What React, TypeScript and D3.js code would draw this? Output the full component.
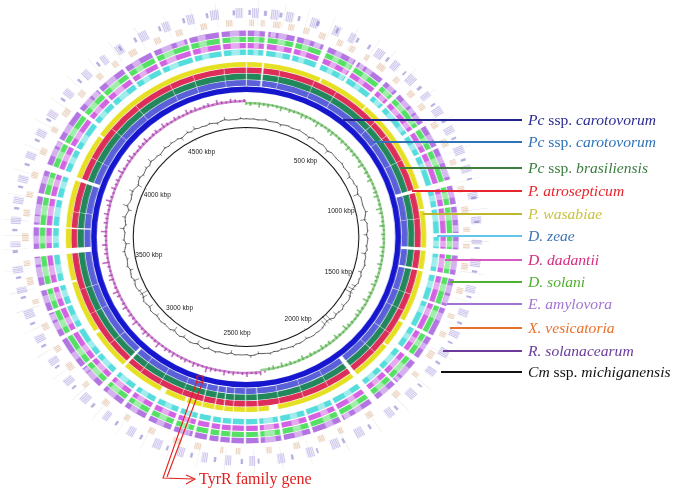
import { useEffect, useRef } from 'react';
import * as d3 from 'd3';

// all genome positions are in kbp
const genomeKbp = 4860;
const tickKbp = [500, 1000, 1500, 2000, 2500, 3000, 3500, 4000, 4500];
const sampleStep = 25;
const skewSwitchKbp = 2350;

const innerGaps = [
  [0, 4], [70, 78], [996, 1012], [1262, 1276], [1358, 1368], [1915, 1935], [2376, 2380], [2430, 2434],
  [2484, 2487], [2525, 2529], [2565, 2569], [2620, 2624], [3000, 3012], [3570, 3595], [3682, 3688], [3900, 3916],
];
const innerSeams = [
  150, 310, 420, 640, 720, 850, 1130, 1480, 1560, 1680, 1790, 2050, 2170, 2280, 2720, 2830, 2930, 3120, 3280, 3400,
  3760, 4020, 4180, 4330, 4510, 4620, 4760,
];
const yellowGaps = [
  [330, 338], [560, 566], [1090, 1098], [1600, 1612], [1730, 1738], [2290, 2330], [2690, 2700], [2790, 2815],
  [3190, 3205], [3440, 3450], [4120, 4130],
];
const outerGaps = [
  [0, 6], [70, 82], [180, 190], [290, 310], [420, 432], [540, 556], [610, 625], [760, 775], [860, 870], [996, 1020],
  [1090, 1100], [1200, 1215], [1262, 1285], [1358, 1375], [1480, 1490], [1600, 1612], [1700, 1720], [1820, 1830],
  [1915, 1940], [2060, 2072], [2180, 2190], [2290, 2300], [2376, 2384], [2430, 2438], [2484, 2490], [2525, 2532],
  [2565, 2575], [2620, 2630], [2700, 2712], [2800, 2815], [2900, 2915], [3000, 3020], [3110, 3118], [3240, 3255],
  [3350, 3360], [3440, 3460], [3570, 3600], [3682, 3692], [3800, 3812], [3900, 3925], [4020, 4030], [4150, 4165],
  [4260, 4270], [4380, 4392], [4500, 4512], [4640, 4650], [4760, 4770],
];
const outerPale = [
  [30, 50], [120, 150], [215, 240], [340, 365], [395, 415], [470, 495], [575, 600], [650, 680], [720, 745], [810, 835],
  [900, 930], [1040, 1065], [1120, 1150], [1230, 1255], [1300, 1340], [1400, 1430], [1510, 1540], [1640, 1665],
  [1750, 1790], [1860, 1890], [1980, 2010], [2100, 2130], [2220, 2250], [2320, 2360], [2650, 2680], [2740, 2770],
  [2850, 2880], [2950, 2985], [3050, 3085], [3150, 3180], [3280, 3310], [3390, 3420], [3490, 3530], [3620, 3650],
  [3730, 3770], [3850, 3880], [3960, 3990], [4060, 4095], [4190, 4220], [4300, 4340], [4420, 4450], [4540, 4580],
  [4680, 4710], [4800, 4835],
];
const violetPale = [
  [90, 110], [255, 280], [440, 460], [690, 712], [950, 985], [1170, 1195], [1440, 1470], [1800, 1815], [2030, 2055],
  [2640, 2648], [3090, 3105], [3320, 3345], [3540, 3565], [3700, 3725], [4000, 4018], [4230, 4255], [4600, 4630],
];

const tanHits = [
  [12, 30], [52, 66], [96, 122], [150, 170], [205, 225], [262, 284], [330, 350], [378, 398], [440, 455], [495, 525],
  [570, 590], [640, 662], [700, 722], [780, 802], [850, 880], [930, 950], [1030, 1052], [1105, 1130], [1180, 1198],
  [1240, 1258], [1310, 1335], [1400, 1422], [1500, 1518], [1570, 1590], [1650, 1680], [1745, 1760], [1840, 1865],
  [1960, 1985], [2080, 2098], [2150, 2172], [2240, 2262], [2340, 2360], [2450, 2466], [2510, 2522], [2590, 2612],
  [2660, 2690], [2760, 2782], [2860, 2880], [2950, 2975], [3050, 3068], [3130, 3160], [3210, 3232], [3300, 3325],
  [3400, 3418], [3470, 3500], [3540, 3560], [3630, 3660], [3720, 3745], [3790, 3810], [3860, 3885], [3950, 3975],
  [4040, 4060], [4110, 4140], [4200, 4222], [4290, 4310], [4360, 4380], [4430, 4458], [4530, 4552], [4610, 4635],
  [4700, 4722], [4790, 4812],
];
const lilacHits = [
  [20, 44], [84, 110], [135, 160], [220, 246], [300, 325], [360, 380], [462, 490], [530, 555], [600, 628], [680, 700],
  [742, 770], [820, 845], [895, 925], [965, 990], [1060, 1085], [1145, 1170], [1225, 1240], [1290, 1320], [1385, 1410],
  [1470, 1495], [1550, 1572], [1620, 1650], [1700, 1725], [1800, 1830], [1900, 1925], [2020, 2050], [2110, 2140],
  [2200, 2225], [2300, 2325], [2400, 2420], [2480, 2500], [2560, 2580], [2640, 2662], [2720, 2750], [2820, 2845],
  [2920, 2940], [3010, 3040], [3095, 3120], [3180, 3205], [3270, 3295], [3360, 3390], [3450, 3470], [3520, 3545],
  [3610, 3630], [3690, 3715], [3760, 3785], [3835, 3860], [3920, 3945], [4005, 4030], [4080, 4105], [4170, 4195],
  [4260, 4285], [4340, 4360], [4400, 4425], [4490, 4520], [4575, 4600], [4660, 4685], [4740, 4770], [4825, 4850],
];
const slateHits = [
  [8, 16], [60, 70], [112, 122], [175, 183], [240, 250], [310, 317], [385, 393], [430, 438], [505, 513], [580, 586],
  [650, 660], [725, 732], [790, 800], [860, 867], [940, 948], [1010, 1016], [1075, 1084], [1160, 1166], [1250, 1256],
  [1330, 1338], [1420, 1427], [1515, 1523], [1590, 1596], [1670, 1678], [1770, 1776], [1880, 1888], [1990, 1998],
  [2090, 2098], [2185, 2191], [2270, 2278], [2385, 2391], [2440, 2448], [2530, 2538], [2610, 2618], [2695, 2702],
  [2790, 2798], [2885, 2893], [2985, 2993], [3075, 3082], [3165, 3172], [3250, 3258], [3335, 3343], [3430, 3438],
  [3500, 3508], [3590, 3600], [3665, 3673], [3740, 3748], [3815, 3823], [3895, 3903], [3985, 3993], [4065, 4073],
  [4150, 4158], [4235, 4243], [4320, 4328], [4412, 4419], [4470, 4478], [4560, 4568], [4645, 4653], [4725, 4733], [4815, 4823],
];
const inkHits = [
  [40, 41], [128, 129], [205, 206], [290, 291], [372, 373], [450, 451], [512, 513], [600, 601], [690, 691], [795, 796],
  [905, 906], [1015, 1016], [1120, 1121], [1230, 1231], [1340, 1341], [1440, 1441], [1530, 1531], [1640, 1641],
  [1760, 1761], [1860, 1861], [1970, 1971], [2090, 2091], [2215, 2216], [2310, 2311], [2402, 2403], [2500, 2501],
  [2590, 2591], [2690, 2691], [2778, 2779], [2870, 2871], [2960, 2961], [3050, 3051], [3142, 3143], [3230, 3231],
  [3318, 3319], [3390, 3391], [3455, 3456], [3530, 3531], [3602, 3603], [3650, 3651], [3702, 3703], [3790, 3791],
  [3872, 3873], [3960, 3961], [4050, 4051], [4135, 4136], [4222, 4223], [4310, 4311], [4395, 4396], [4490, 4491],
  [4590, 4591], [4680, 4681], [4760, 4761],
];

const gcValues = [
  1, 0, 1, -1, 0, 2, -1, 0, 1, -3, 0, 1, -1, 0, 2, 0, -1, -4, 1, 0, -1, 1, 0, -5, 1, 0, -1, 0, 2, -1,
  0, 1, -4, 0, -1, 2, 0, -6, 1, 0, -1, 0, 3, -1, -6, 1, 0, 1, -4, 1, 0, -2, 1, -5, 0, -1, 2, 0, -4, 1,
  -1, 1, -5, -7, -9, -3, 0, -1, -4, 1, -2, -5, 0, -8, -10, -7, -2, 0, -1, 1, 0, -3, 0, 1, -1, 2, 0, 0, -2, 1,
  -1, 2, 0, -1, -3, 1, 3, -1, 0, 0, 1, -4, 1, 0, -1, 2, 0, -3, 2, 1, -5, 0, 1, -1, -4, 1, 0, -6, 1, 0,
  -2, 1, -1, -4, 0, 1, -5, -1, 1, -6, -8, -4, 0, -1, -6, 1, -1, -4, 2, 0, -2, 1, 3, -1, -5, 2, 0, -1, 5, -2,
  1, 4, 0, -4, 6, 0, -1, 2, 5, 0, -5, 1, 4, -2, 0, 3, -1, 5, 0, 1, -3, 0, 3, -1, 2, 0, 1, -4, 0, 3,
  -1, 4, 0, 1, -1, 2, 0, -3, 1, 4, 0, 0, -1, 2, 0,
];
const skewValues = [
  -3, -4, -2, -5, -3, -4, -2, -3, -5, -2, -4, -3, -2, -5, -4, -2, -3, -6, -3, -2, -4, -5, -2, -3, -4, -2, -5, -3, -4, -2,
  -3, -6, -2, -4, -3, -5, -2, -3, -4, -5, -2, -3, -6, -4, -2, -3, -5, -2, -4, -3, -2, -5, -3, -4, -2, -5, -3, -2, -4, -3,
  -5, -2, -4, -3, -6, -2, -3, -5, -4, -2, -3, -4, -6, -2, -3, -5, -2, -4, -3, -5, -2, -3, -4, -2, -5, -3, -2, -4, -3, -5,
  -2, -4, -3, 2, 4, 3, 2, 5, 3, 2, 4, 3, 5, 2, 3, 4, 6, 2, 3, 5, 2, 4, 3, 2, 5, 3, 4, 2, 6, 3,
  2, 4, 5, 3, 2, 6, 3, 4, 2, 5, 3, 2, 4, 6, 3, 2, 5, 4, 2, 3, 7, 2, 4, 3, 5, 2, 3, 6, 2, 4,
  3, 5, 2, 4, 6, 3, 2, 5, 3, 4, 2, 6, 3, 2, 4, 5, 3, 2, 4, 3, 5, 2, 3, 4, 2, 5, 3, 2, 4, 3,
  2, 5, 3, 4, 2, 3, 4, 2, 5, 3, 2, 4, 3, 2, 3,
];

const legendLabels = [
  'Pc ssp. carotovorum', 'Pc ssp. carotovorum', 'Pc ssp. brasiliensis', 'P. atrosepticum', 'P. wasabiae', 'D. zeae',
  'D. dadantii', 'D. solani', 'E. amylovora', 'X. vesicatoria', 'R. solanacearum', 'Cm ssp. michiganensis',
];
const legendTextColors = [
  '#2b2b92', '#2f72b8', '#3b7d3f', '#e8242c', '#c9c23e', '#3f74b8', '#d62a80', '#4fb030', '#a274d2', '#e8702a', '#6b3a9c', '#111111',
];
const legendLineColors = [
  '#22228f', '#2f72b8', '#3f7d3f', '#e8242c', '#bdb62e', '#62c6ea', '#d65cc2', '#4fb030', '#a274d2', '#e8702a', '#6b3a9c', '#111111',
];
const legendY = [120, 142, 168, 191, 214, 236, 260, 282, 304, 328, 351, 372];
const legendLineStart = [343, 373, 400, 412, 423, 437, 445, 450, 447, 450, 443, 441];

const cx = 246;
const cy = 237;
const xStretch = 1.03;

export default function App() {
  const svgRef = useRef<SVGSVGElement>(null);

  useEffect(() => {
    if (!svgRef.current) return;
    const root = d3.select(svgRef.current);
    root.selectAll('*').remove();

    const angle = d3.scaleLinear().domain([0, genomeKbp]).range([0, 2 * Math.PI]);
    const soft = root.append('defs').append('filter').attr('id', 'soft');
    soft.append('feGaussianBlur').attr('stdDeviation', 0.4);

    const g = root.append('g')
      .attr('transform', `translate(${cx},${cy}) scale(${xStretch},1)`)
      .attr('filter', 'url(#soft)');

    const arc = d3.arc<number[]>()
      .startAngle(d => angle(d[0]))
      .endAngle(d => angle(d[1]));

    // turn a list of gaps into the blocks between them
    const blocksBetween = (gaps: number[][]) => {
      const sorted = [...gaps].sort((a, b) => a[0] - b[0]);
      const blocks: number[][] = [];
      let from = 0;
      sorted.forEach(gap => {
        if (gap[0] > from) blocks.push([from, gap[0]]);
        from = Math.max(from, gap[1]);
      });
      if (from < genomeKbp) blocks.push([from, genomeKbp]);
      return blocks;
    };

    const drawSegments = (segments: number[][], r0: number, r1: number, color: string, opacity = 1) => {
      g.append('g')
        .selectAll('path')
        .data(segments)
        .enter()
        .append('path')
        .attr('d', d => arc.innerRadius(r0).outerRadius(r1)(d) as string)
        .attr('fill', color)
        .attr('opacity', opacity);
    };

    // cut a hit into fine stripes so it reads as many small genes
    const striped = (hits: number[][]) =>
      hits.flatMap(([from, to]) => d3.range(from, to, 6).map(k => [k, Math.min(k + 4, to)]));

    const seams = innerSeams.map(k => [k, k + 2]);

    // solid reference ring
    drawSegments([[0, genomeKbp]], 145, 150.5, '#1618cf');

    // close relatives
    drawSegments(blocksBetween([...innerGaps, ...seams]), 151.2, 157, '#5a60d8');
    drawSegments(blocksBetween([...innerGaps, ...seams]), 157.6, 163.4, '#23885c');
    drawSegments(blocksBetween([...innerGaps, ...seams]), 164, 169.6, '#dc2d58');
    drawSegments(blocksBetween([...innerGaps, ...yellowGaps]), 170.2, 175, '#e6e024');

    // more distant genomes, with paler stripes on top
    const outerRings: [number, number, string][] = [
      [182, 187.4, '#55dcdc'],
      [188.8, 194, '#d264e2'],
      [195, 200.2, '#55e065'],
      [201, 206.4, '#b274e2'],
    ];
    outerRings.forEach(([r0, r1, color]) => {
      drawSegments(blocksBetween(outerGaps), r0, r1, color);
      drawSegments(outerPale, r0, r1, '#ffffff', 0.45);
    });
    drawSegments(violetPale, 201, 206.4, '#ffffff', 0.5);

    // sparse hits on the outside
    drawSegments(inkHits, 212, 236, '#8a8a8a', 0.3);
    drawSegments(striped(tanHits), 211, 217.5, '#d8a880', 0.5);
    drawSegments(striped(lilacHits), 219, 229, '#a090dc', 0.5);
    drawSegments(slateHits, 222, 227, '#6c62c4', 0.5);

    const bar = d3.lineRadial<number[]>()
      .angle(d => angle(d[0]))
      .radius(d => d[1]);

    // GC skew
    const skewColor = (d: number) => (d < 0 ? '#45a83a' : '#a42ea8');
    drawSegments([[0, skewSwitchKbp]], 132.8, 135.2, '#45a83a', 0.55);
    drawSegments([[skewSwitchKbp, genomeKbp]], 134.8, 137.2, '#a42ea8', 0.55);
    g.append('g')
      .selectAll('path')
      .data(skewValues)
      .enter()
      .append('path')
      .attr('d', (d, i) => bar([[i * sampleStep, 135], [i * sampleStep, 135 + d]]) as string)
      .attr('fill', 'none')
      .attr('stroke', d => skewColor(d))
      .attr('stroke-opacity', 0.7)
      .attr('stroke-width', 1.6);

    // GC content: spikes round a darker wiggling line
    g.append('g')
      .selectAll('path')
      .data(gcValues)
      .enter()
      .append('path')
      .attr('d', (d, i) => bar([[i * sampleStep, 118], [i * sampleStep, 118 + d]]) as string)
      .attr('fill', 'none')
      .attr('stroke', '#444444')
      .attr('stroke-width', 0.6);

    const gcLine = d3.lineRadial<number>()
      .angle((_, i) => angle(i * sampleStep))
      .radius(d => 118 + d * 0.3)
      .curve(d3.curveLinearClosed);
    g.append('path')
      .attr('d', gcLine(gcValues) as string)
      .attr('fill', 'none')
      .attr('stroke', '#222222')
      .attr('stroke-width', 0.7);

    // position circle
    g.append('circle')
      .attr('r', 109.5)
      .attr('fill', 'none')
      .attr('stroke', '#111111')
      .attr('stroke-width', 1);

    g.append('g')
      .selectAll('line')
      .data([0, ...tickKbp])
      .enter()
      .append('line')
      .attr('x1', d => 109.5 * Math.sin(angle(d)))
      .attr('y1', d => -109.5 * Math.cos(angle(d)))
      .attr('x2', d => 107.5 * Math.sin(angle(d)))
      .attr('y2', d => -107.5 * Math.cos(angle(d)))
      .attr('stroke', '#555555')
      .attr('stroke-width', 0.5);

    root.append('g')
      .selectAll('text')
      .data(tickKbp)
      .enter()
      .append('text')
      .attr('x', d => cx + xStretch * 96 * Math.sin(angle(d)))
      .attr('y', d => cy - 96 * Math.cos(angle(d)) + 2.3)
      .attr('text-anchor', 'middle')
      .style('font-family', '"Liberation Sans", sans-serif')
      .style('font-size', '6.6px')
      .style('fill', '#222222')
      .text(d => `${d} kbp`);

    // legend with leader lines
    const legend = root.append('g');
    legendLabels.forEach((label, i) => {
      legend.append('line')
        .attr('x1', legendLineStart[i])
        .attr('x2', 522)
        .attr('y1', legendY[i])
        .attr('y2', legendY[i])
        .attr('stroke', legendLineColors[i])
        .attr('stroke-width', 2);

      const text = legend.append('text')
        .attr('x', 528)
        .attr('y', legendY[i] + 4.5)
        .style('font-family', '"Liberation Serif", serif')
        .style('font-size', '15.6px')
        .style('fill', legendTextColors[i]);
      const parts = label.split(' ssp. ');
      if (parts.length === 2) {
        text.append('tspan').style('font-style', 'italic').text(parts[0]);
        text.append('tspan').text(' ssp. ');
        text.append('tspan').style('font-style', 'italic').text(parts[1]);
      } else {
        text.append('tspan').style('font-style', 'italic').text(label);
      }
    });

    // TyrR callout
    const red = '#e0201f';
    const line = d3.line();
    const callout = root.append('g').attr('fill', 'none').attr('stroke', red).attr('stroke-width', 1.1);
    callout.append('path').attr('d', line([[197, 376], [203, 376], [203, 382], [197, 382]]) + 'Z');
    callout.append('path').attr('d', line([[197, 381], [163, 478], [193, 479]]) as string);
    callout.append('path').attr('d', line([[203, 381], [167, 477]]) as string);
    callout.append('path').attr('d', line([[186, 475], [195, 479], [186, 484]]) as string);
    root.append('text')
      .attr('x', 199)
      .attr('y', 484)
      .style('font-family', '"Liberation Serif", serif')
      .style('font-size', '16px')
      .style('fill', red)
      .text('TyrR family gene');
  }, []);

  return (
    <svg
      ref={svgRef}
      width={675}
      height={491}
      style={{ position: 'absolute', left: 0, top: 0, background: '#ffffff' }}
    />
  );
}
